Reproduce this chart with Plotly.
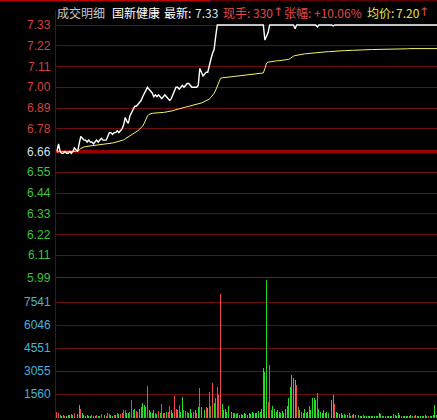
import plotly.graph_objects as go

# ---------------- data ----------------
minutes = list(range(241))

price = [
    6.66, 6.70, 6.66, 6.65, 6.65, 6.66, 6.65, 6.65, 6.66, 6.65,
    6.66, 6.68, 6.67, 6.66, 6.70, 6.74, 6.73, 6.72, 6.72, 6.71,
    6.72, 6.71, 6.71, 6.70, 6.71, 6.72, 6.71, 6.72, 6.73, 6.72,
    6.72, 6.72, 6.74, 6.76, 6.76, 6.75, 6.76, 6.76, 6.77, 6.76,
    6.77, 6.78, 6.80, 6.84, 6.82, 6.81, 6.85, 6.87, 6.89, 6.90,
    6.90, 6.91, 6.92, 6.93, 6.95, 6.97, 6.99, 7.00, 6.99, 6.98,
    6.97, 6.95, 6.96, 6.95, 6.96, 6.95, 6.94, 6.95, 6.96, 6.95,
    6.94, 6.93, 6.94, 6.96, 6.98, 7.00, 7.00, 6.99, 7.00, 7.01,
    7.00, 7.01, 7.02, 7.02, 7.01, 7.00, 7.00, 7.00, 7.00, 7.01,
    7.10, 7.08, 7.06, 7.07, 7.08, 7.08, 7.12, 7.15, 7.18, 7.20,
    7.27, 7.33, 7.33, 7.33, 7.33, 7.33, 7.33, 7.33, 7.33, 7.33,
    7.33, 7.33, 7.33, 7.33, 7.33, 7.33, 7.33, 7.33, 7.33, 7.33,
    7.33, 7.33, 7.33, 7.33, 7.33, 7.33, 7.33, 7.33, 7.33, 7.33,
    7.33, 7.25, 7.27, 7.29, 7.33, 7.33, 7.33, 7.33, 7.33, 7.33,
    7.33, 7.33, 7.33, 7.33, 7.33, 7.33, 7.33, 7.33, 7.33, 7.33,
    7.31, 7.33, 7.33, 7.33, 7.33, 7.33, 7.33, 7.33, 7.33, 7.33,
    7.33, 7.33, 7.33, 7.33, 7.32, 7.33, 7.33, 7.33, 7.33, 7.33,
    7.33, 7.33, 7.33, 7.33, 7.325, 7.33, 7.33, 7.33, 7.33, 7.33,
    7.33, 7.33, 7.33, 7.33, 7.33, 7.33, 7.33, 7.33, 7.33, 7.33,
    7.33, 7.33, 7.33, 7.33, 7.33, 7.33, 7.33, 7.33, 7.33, 7.33,
    7.33, 7.33, 7.33, 7.33, 7.33, 7.33, 7.33, 7.33, 7.33, 7.33,
    7.33, 7.33, 7.33, 7.33, 7.33, 7.33, 7.33, 7.33, 7.33, 7.33,
    7.33, 7.33, 7.33, 7.33, 7.33, 7.33, 7.33, 7.33, 7.33, 7.33,
    7.33, 7.33, 7.33, 7.33, 7.33, 7.33, 7.33, 7.33, 7.33, 7.33,
    7.33,
]

avg_price = [
    6.657, 6.660, 6.660, 6.659, 6.658, 6.658, 6.658, 6.658, 6.659, 6.659,
    6.660, 6.661, 6.662, 6.665, 6.668, 6.676, 6.682, 6.684, 6.686, 6.687,
    6.688, 6.688, 6.689, 6.689, 6.690, 6.691, 6.692, 6.693, 6.694, 6.695,
    6.696, 6.697, 6.699, 6.701, 6.703, 6.705, 6.707, 6.709, 6.711, 6.713,
    6.715, 6.718, 6.721, 6.727, 6.732, 6.736, 6.741, 6.748, 6.754, 6.758,
    6.764, 6.770, 6.778, 6.786, 6.795, 6.810, 6.830, 6.848, 6.857, 6.861,
    6.862, 6.863, 6.863, 6.864, 6.864, 6.865, 6.866, 6.867, 6.868, 6.869,
    6.870, 6.871, 6.874, 6.876, 6.879, 6.882, 6.885, 6.887, 6.889, 6.891,
    6.893, 6.895, 6.897, 6.899, 6.901, 6.903, 6.905, 6.906, 6.907, 6.909,
    6.913, 6.917, 6.921, 6.925, 6.929, 6.933, 6.938, 6.946, 6.956, 6.968,
    6.985, 7.008, 7.032, 7.047, 7.050, 7.051, 7.052, 7.053, 7.054, 7.055,
    7.055, 7.056, 7.057, 7.058, 7.059, 7.060, 7.061, 7.062, 7.062, 7.063,
    7.063, 7.064, 7.065, 7.066, 7.067, 7.069, 7.070, 7.071, 7.072, 7.074,
    7.076, 7.100, 7.127, 7.133, 7.135, 7.137, 7.138, 7.139, 7.140, 7.141,
    7.141, 7.142, 7.142, 7.143, 7.144, 7.145, 7.148, 7.153, 7.160, 7.165,
    7.168, 7.170, 7.172, 7.174, 7.175, 7.176, 7.177, 7.178, 7.179, 7.180,
    7.181, 7.182, 7.183, 7.184, 7.185, 7.186, 7.186, 7.187, 7.187, 7.188,
    7.188, 7.189, 7.189, 7.190, 7.191, 7.192, 7.192, 7.193, 7.193, 7.193,
    7.194, 7.194, 7.195, 7.195, 7.195, 7.196, 7.196, 7.196, 7.197, 7.197,
    7.197, 7.198, 7.198, 7.198, 7.199, 7.199, 7.199, 7.200, 7.200, 7.200,
    7.200, 7.201, 7.201, 7.201, 7.202, 7.202, 7.202, 7.203, 7.203, 7.203,
    7.203, 7.203, 7.203, 7.204, 7.204, 7.204, 7.204, 7.204, 7.204, 7.204,
    7.204, 7.204, 7.205, 7.205, 7.205, 7.205, 7.205, 7.205, 7.205, 7.205,
    7.205, 7.205, 7.205, 7.205, 7.205, 7.205, 7.205, 7.205, 7.205, 7.205,
    7.205,
]

volume = [
    420, 300, 180, 150, 200, 160, 140, 220, 180, 260,
    200, 300, 1495, 250, 845, 600, 300, 200, 160, 180,
    150, 120, 200, 130, 150, 180, 120, 140, 260, 160,
    200, 150, 300, 250, 180, 160, 200, 220, 300, 250,
    280, 350, 500, 520, 330, 300, 400, 1170, 500, 600,
    450, 400, 600, 700, 975, 845, 700, 2080, 500, 400,
    350, 500, 300, 250, 450, 300, 910, 350, 300, 400,
    400, 780, 500, 350, 1430, 600, 500, 845, 400, 1365,
    500, 450, 400, 350, 600, 300, 400, 500, 300, 700,
    1950, 700, 600, 500, 700, 650, 1690, 800, 2275, 1000,
    1300, 2000, 1500, 8060, 900, 500, 600, 400, 800, 450,
    400, 350, 300, 250, 300, 200, 250, 200, 300, 250,
    200, 300, 250, 400, 350, 300, 300, 450, 400, 600,
    3250, 3000, 8970, 1040, 3445, 500, 800, 600, 400, 500,
    400, 300, 450, 350, 600, 800, 1300, 2000, 2800, 2600,
    2470, 2145, 700, 500, 400, 350, 600, 300, 400, 780,
    500, 1300, 1300, 1170, 1625, 600, 400, 300, 500, 350,
    400, 300, 500, 1170, 1495, 910, 400, 300, 250, 300,
    200, 250, 180, 220, 300, 150, 200, 250, 180, 150,
    200, 150, 120, 180, 150, 100, 130, 150, 120, 100,
    120, 100, 150, 300, 250, 150, 100, 120, 100, 150,
    120, 150, 250, 200, 150, 300, 200, 120, 100, 150,
    130, 100, 150, 200, 120, 100, 180, 150, 120, 100,
    150, 120, 200, 100, 150, 130, 120, 180, 845, 200,
    150,
]

# direction of each volume bar: r = up (red), g = down (green), o = mixed
vol_dir_rows = [
    "rrgggrgggg",
    "grgggrgggg",
    "ggrggrggrg",
    "grrrggrgrg",
    "rrrrggrrrg",
    "rrgggggrgg",
    "ggrgrgrgrg",
    "rrggrrgrgg",
    "rrrgggrgrg",
    "rgrgrgrorg",
    "orrrgggggg",
    "gggggggggg",
    "gggggggggg",
    "gggrrogggg",
    "gggggggggg",
    "groggggggg",
    "ggggrggggg",
    "gggggrgggg",
    "ggrgggrggg",
    "gggrgggggg",
    "ggggggrggg",
    "gggggggrgg",
    "gggggrgggg",
    "ggggrggggg",
    "g",
]

price_ticks = [7.33, 7.22, 7.11, 7.00, 6.89, 6.78, 6.66, 6.55, 6.44, 6.33, 6.22, 6.11, 5.99]
price_tick_text = ["7.33", "7.22", "7.11", "7.00", "6.89", "6.78", "6.66",
                   "6.55", "6.44", "6.33", "6.22", "6.11", "5.99"]
prev_close = 6.66
vol_ticks = [7541, 6046, 4551, 3055, 1560]
vol_tick_text = ["7541", "6046", "4551", "3055", "1560"]

CJK = "Noto Sans CJK SC, Liberation Sans"
ARW = "DejaVu Sans, Liberation Sans"
header_parts = [
    ("成交明细", "#c8c8c8", 56, CJK),
    ("国新健康", "#ffffff", 111, CJK),
    ("最新:", "#ffffff", 163, CJK),
    ("7.33", "#d4e6fa", 194, CJK),
    ("现手:", "#e44848", 222, CJK),
    ("330", "#e44848", 252, CJK),
    ("↑", "#e44848", 272, ARW),
    ("张幅:", "#e44848", 283, CJK),
    ("+10.06%", "#e44848", 313, CJK),
    ("均价:", "#e6e64a", 366, CJK),
    ("7.20", "#e6e64a", 395, CJK),
    ("↑", "#e44848", 418, ARW),
]

# ---------------- figure ----------------
W, H = 437, 420
L = 56
PW = W - L
RED = "#f04848"
GREEN = "#22dd22"
OLIVE = "#8c8c1e"
cmap = {"r": RED, "g": GREEN, "o": OLIVE}
vol_dir = "".join(vol_dir_rows)
bar_colors = [cmap[c] for c in vol_dir]

px_per_min = PW / 240.0
x0 = -0.6
x1 = x0 + PW / px_per_min

# price axis: 7.33 at y=25px, 5.99 at y=278px; panel from y=10 to y=278
pp = (7.33 - 5.99) / (278 - 25)
price_top = 7.33 + (25 - 10) * pp
# volume axis: 0 at y=418px; panel from y=278 to y=420
vpp = (7541 - 1560) / (394 - 302)
vol_lo = -(420 - 418) * vpp
vol_hi = (418 - 278) * vpp

fig = go.Figure()
fig.add_trace(go.Bar(x=minutes, y=volume, yaxis="y2", width=0.62,
                     marker=dict(color=bar_colors, line=dict(width=0)),
                     hoverinfo="skip"))
fig.add_trace(go.Scatter(x=minutes, y=avg_price, mode="lines",
                         line=dict(color="#f4f46a", width=1), hoverinfo="skip"))
fig.add_trace(go.Scatter(x=minutes, y=price, mode="lines",
                         line=dict(color="#ffffff", width=1.4), hoverinfo="skip"))

GRID = "#6e0c0c"
fig.update_layout(
    width=W, height=H,
    margin=dict(l=L, r=0, t=0, b=0),
    paper_bgcolor="#000000", plot_bgcolor="#000000",
    showlegend=False,
    bargap=0,
    xaxis=dict(range=[x0, x1], visible=False, anchor="y2", fixedrange=True),
    yaxis=dict(domain=[(H - 278) / H, (H - 10) / H], range=[5.99, price_top],
               tickvals=price_ticks, showticklabels=False, ticks="",
               showgrid=True, gridcolor=GRID, gridwidth=1, zeroline=False,
               showline=True, linecolor="#7a0000", linewidth=1),
    yaxis2=dict(domain=[0, (H - 278) / H], range=[vol_lo, vol_hi],
                tickvals=vol_ticks, showticklabels=False, ticks="",
                showgrid=True, gridcolor=GRID, gridwidth=1, zeroline=False,
                showline=True, linecolor="#7a0000", linewidth=1),
    font=dict(family="Liberation Sans, Arial, sans-serif"),
)

shapes = [
    dict(type="line", xref="paper", yref="y", x0=0, x1=1, y0=prev_close, y1=prev_close,
         line=dict(color="#9a0000", width=3), layer="below"),
    dict(type="line", xref="paper", yref="y", x0=0, x1=1, y0=5.99, y1=5.99,
         line=dict(color="#a80000", width=2), layer="below"),
    dict(type="line", xref="paper", yref="paper", x0=-L / PW, x1=(210 - L) / PW,
         y0=1 - 0.5 / H, y1=1 - 0.5 / H, line=dict(color="#c00000", width=1.5)),
    dict(type="line", xref="paper", yref="paper", x0=(210 - L) / PW, x1=1,
         y0=1 - 0.5 / H, y1=1 - 0.5 / H, line=dict(color="#5a0000", width=1.5)),
]
fig.update_layout(shapes=shapes)

ann = []
lab_x = (53 - L) / PW
for v, t in zip(price_ticks, price_tick_text):
    if v > prev_close + 1e-9:
        col = "#d44040"
    elif abs(v - prev_close) < 1e-9:
        col = "#d0e0f0"
    else:
        col = "#3cc43c"
    ann.append(dict(x=lab_x, xref="paper", y=v, yref="y", text=t, showarrow=False,
                    xanchor="right", yanchor="middle",
                    font=dict(size=12, color=col, family="Liberation Sans, Arial")))
for v, t in zip(vol_ticks, vol_tick_text):
    ann.append(dict(x=lab_x, xref="paper", y=v, yref="y2", text=t, showarrow=False,
                    xanchor="right", yanchor="middle",
                    font=dict(size=12, color="#40b4dc", family="Liberation Sans, Arial")))
for t, col, px, fam in header_parts:
    ann.append(dict(x=(px - L) / PW, xref="paper", y=(H - 12) / H, yref="paper",
                    text=t, showarrow=False, xanchor="left", yanchor="middle",
                    xshift=-1,
                    font=dict(size=12, color=col, family=fam)))
fig.update_layout(annotations=ann)

fig.write_html("out.html",
               config={"displayModeBar": False, "staticPlot": True},
               post_script="document.body.style.margin='0';document.body.style.overflow='hidden';")
